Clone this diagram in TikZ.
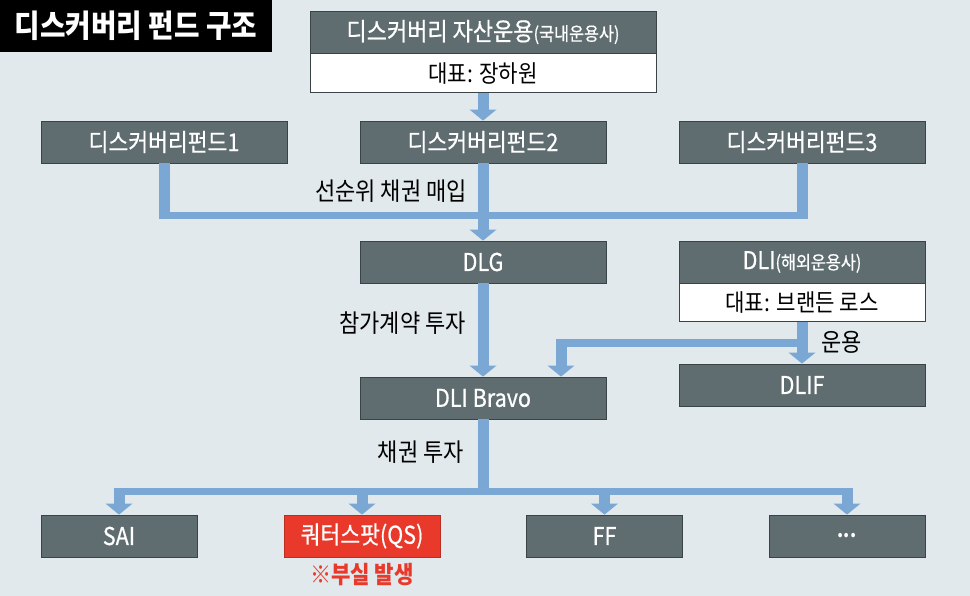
\documentclass[tikz,border=0pt]{standalone}
\usepackage{fontspec}
\setmainfont{Noto Sans CJK KR}[FakeStretch=0.88]
\newfontfamily\boxfont{Noto Sans CJK KR}[FakeStretch=0.88, FakeBold=0.6]
\usetikzlibrary{positioning, arrows.meta}
\definecolor{bgcol}{HTML}{E1E9EC}
\definecolor{boxgray}{HTML}{5F6D71}
\definecolor{boxedge}{HTML}{3A4447}
\definecolor{flowblue}{HTML}{7BA7D5}
\definecolor{alertred}{HTML}{E8392B}
\newcommand{\fsz}[1]{\fontsize{#1}{#1}\selectfont}

\begin{document}
\begin{tikzpicture}[
    x=1pt, y=-1pt,
    box/.style={rectangle, draw=boxedge, line width=0.8pt, fill=boxgray, text=white, inner sep=0pt, minimum width=246pt, minimum height=42pt, font=\boxfont\fsz{24.5}},
    smallbox/.style={box, minimum width=156pt},
    ceo/.style={box, fill=white, text=black, minimum height=39pt, font=\normalfont\fsz{24}},
    lbl/.style={font=\fsz{25}, text=black, inner sep=0pt},
    shaft/.style={draw=flowblue, line width=11pt},
    arr/.style={shaft, -{Triangle[width=27pt, length=11pt, line width=0pt]}},
    bus/.style={draw=flowblue, line width=7pt},
  ]
    % Background and title
    \fill[bgcol] (0,0) rectangle (970,596);
    \node[fill=black, text=white, inner sep=0pt, minimum width=272pt, minimum height=52pt, font=\bfseries\fsz{31.5}] (title) at (136,26) {디스커버리 펀드 구조};

    % Domestic manager
    \node[box, minimum width=346pt, font=\boxfont\fsz{25}] (ahead) at (483,32) {디스커버리 자산운용{\fsz{18.5}(국내운용사)}};
    \node[ceo, minimum width=346pt, below=0pt of ahead] (aceo) {대표: 장하원};

    % Funds
    \node[box] (f1) at (164,142) {디스커버리펀드1};
    \node[box] (f2) at (483,142) {디스커버리펀드2};
    \node[box] (f3) at (802,142) {디스커버리펀드3};

    % Middle layer
    \node[box] (dlg) at (483,262) {DLG};
    \node[box] (dli) at (802,262) {DLI{\fsz{18.5}(해외운용사)}};
    \node[ceo, minimum height=38pt, below=0pt of dli] (dliceo) {대표: 브랜든 로스};
    \node[box] (dlif) at (802,385) {DLIF};
    \node[box] (bravo) at (483,398) {DLI Bravo};

    % Borrowers
    \node[smallbox] (sai) at (119,536) {SAI};
    \node[smallbox, fill=alertred, draw=alertred!80!black] (qs) at (362,536) {쿼터스팟(QS)};
    \node[smallbox] (ff) at (604.5,536) {FF};
    \node[smallbox, font=\bfseries\fsz{20}] (more) at (847,536) {...};
    \node[below=6pt of qs, inner sep=0pt, text=alertred, font=\bfseries\fsz{24}] (bad) {※부실 발생};

    % Flow labels
    \node[lbl, anchor=east] (lbuy) at (467,191) {선순위 채권 매입};
    \node[lbl, anchor=east] (lpart) at (466,323) {참가계약 투자};
    \node[lbl, anchor=east] (lbond) at (464,452) {채권 투자};
    \node[lbl, anchor=west] (lrun) at (821,342) {운용};

    % Helper coordinates
    \coordinate (ybus) at (0,216);
    \coordinate (ybend) at (0,343);
    \coordinate (ylow) at (0,491);
    \coordinate (jl) at (f1.south |- ybus);
    \coordinate (jr) at (f3.south |- ybus);
    \coordinate (dlibr) at (dliceo.south |- ybend);
    \coordinate (bend) at (561,343);
    \coordinate (bj) at (bravo.south |- ylow);
    \coordinate (bl) at (sai.north |- ylow);
    \coordinate (br) at (more.north |- ylow);

    % Arrows
    \draw[arr] (aceo.south) -- (f2.north);
    \draw[shaft] (f1.south) -- ([yshift=-3.5pt]jl);
    \draw[shaft] (f3.south) -- ([yshift=-3.5pt]jr);
    \draw[bus] ([xshift=-5.5pt]jl) -- ([xshift=5.5pt]jr);
    \draw[arr] (f2.south) -- (dlg.north);
    \draw[arr] (dlg.south) -- (bravo.north);
    \draw[arr] (dliceo.south) -- (dlif.north);
    \draw[bus] ([xshift=5.5pt]dlibr) -- ([xshift=-5.5pt]bend);
    \draw[arr] ([yshift=3.5pt]bend) -- (bend |- bravo.north);
    \draw[shaft] (bravo.south) -- ([yshift=-3.5pt]bj);
    \draw[bus] ([xshift=-5.5pt]bl) -- ([xshift=5.5pt]br);
    \foreach \n in {sai,qs,ff,more}
      \draw[arr] (\n.north |- ylow) -- (\n.north);
  \end{tikzpicture}
\end{document}
